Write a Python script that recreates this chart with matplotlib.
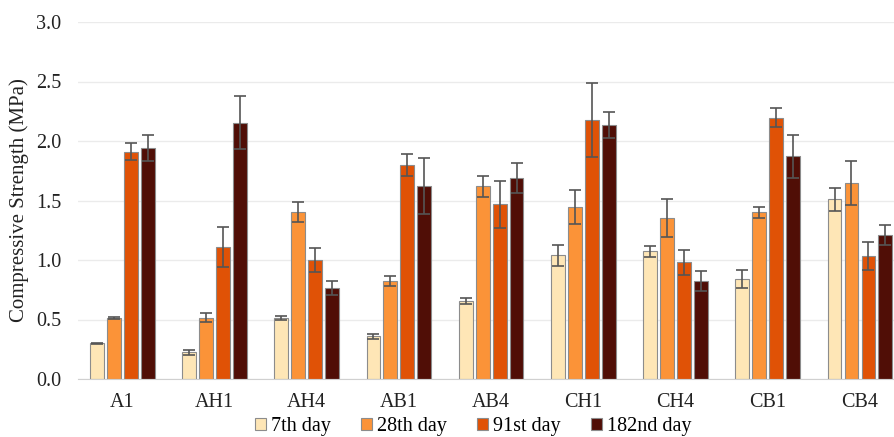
import numpy as np
from matplotlib import pyplot as plt

plt.rcParams['font.family'] = ['Liberation Serif', 'DejaVu Serif']

# data
mixes = ['A1', 'AH1', 'AH4', 'AB1', 'AB4', 'CH1', 'CH4', 'CB1', 'CB4']
series = ['7th day', '28th day', '91st day', '182nd day']

day7 = [0.30, 0.225, 0.515, 0.36, 0.655, 1.04, 1.075, 0.84, 1.51]
day28 = [0.515, 0.515, 1.405, 0.825, 1.62, 1.445, 1.35, 1.40, 1.647]
day91 = [1.91, 1.11, 1.00, 1.80, 1.468, 2.174, 0.98, 2.196, 1.036]
day182 = [1.94, 2.155, 0.767, 1.625, 1.686, 2.134, 0.826, 1.871, 1.207]

err7 = [0.006, 0.02, 0.015, 0.022, 0.024, 0.088, 0.046, 0.078, 0.095]
err28 = [0.008, 0.04, 0.085, 0.044, 0.09, 0.144, 0.16, 0.044, 0.186]
err91 = [0.07, 0.165, 0.10, 0.094, 0.20, 0.31, 0.105, 0.078, 0.116]
err182 = [0.11, 0.22, 0.06, 0.235, 0.125, 0.11, 0.083, 0.183, 0.083]

colors = ['#FEE6B6', '#FB9338', '#E05206', '#500E06']

values = [day7, day28, day91, day182]
errors = [err7, err28, err91, err182]

fig = plt.figure(figsize=(8.95, 4.37), dpi=100)
ax = fig.add_axes([78 / 895, 1 - 379 / 437, 1 - 78 / 895, (379 - 22) / 437])

x = np.arange(len(mixes))
step = 0.184
width = 0.15
for i in range(4):
    ax.bar(x + (i - 1.5) * step, values[i], width, color=colors[i],
           edgecolor='#8C8C8C', linewidth=0.8, label=series[i], zorder=2,
           yerr=errors[i], capsize=4,
           error_kw=dict(ecolor='#555555', elinewidth=1.2, capthick=1.2, zorder=3))

ax.set_xlim(-0.48, 8.38)
ax.set_ylim(0, 3.0)
ax.set_yticks([0, 0.5, 1.0, 1.5, 2.0, 2.5, 3.0])
ax.set_yticklabels(['0.0', '0.5', '1.0', '1.5', '2.0', '2.5', '3.0'])
ax.set_xticks(x)
ax.set_xticklabels(mixes)
ax.tick_params(axis='both', length=0, labelsize=14.5, colors='#222222')
ax.tick_params(axis='x', pad=10)
ax.tick_params(axis='y', pad=12)
ax.yaxis.grid(True, color='#EBEBEB', linewidth=1, zorder=0)
ax.set_axisbelow(True)
for s in ['top', 'right', 'left']:
    ax.spines[s].set_visible(False)
ax.spines['bottom'].set_color('#D0D0D0')

ax.set_ylabel('Compressive Strength (MPa)', fontsize=15, color='#222222', labelpad=5)

fig.legend(loc='lower center', bbox_to_anchor=(473 / 895, -0.04), ncol=4,
           frameon=False, fontsize=14.5, handlelength=0.55, handleheight=0.55,
           handletextpad=0.25, columnspacing=1.5)

fig.savefig('out.png', dpi=100)
